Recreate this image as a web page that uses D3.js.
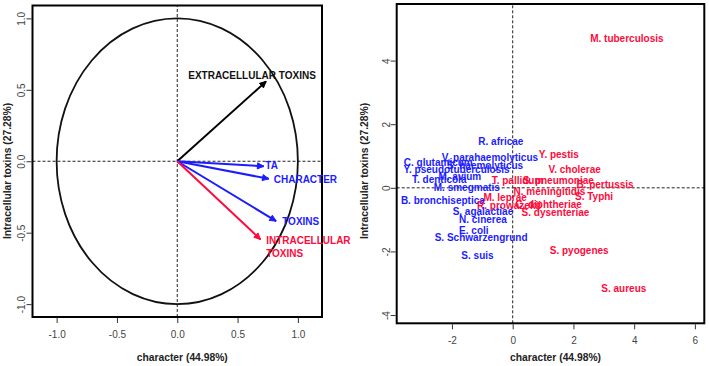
<!DOCTYPE html>
<meta charset="utf-8">
<title>PCA biplot - toxins</title>
<style>
  body { margin: 0; background: #fff; }
  svg text { font-family: "Liberation Sans", Arial, sans-serif; }
</style>
<body>
<div id="chart"></div>
<script src="https://cdn.jsdelivr.net/npm/d3@7/dist/d3.min.js"></script>
<script>

  const width = 709;
  const height = 366;

  // variables (correlation circle)
  const varNames = ["EXTRACELLULAR TOXINS", "TA", "CHARACTER", "TOXINS", "INTRACELLULAR TOXINS"];
  const varX = [0.737, 0.717, 0.759, 0.820, 0.690];
  const varY = [0.559, -0.035, -0.123, -0.419, -0.547];
  const varLabelX = [0.091, 0.73, 0.800, 0.870, 0.737];
  const varLabelY = [0.598, -0.030, -0.128, -0.424, -0.555];
  const varGroup = ["extra", "both", "both", "both", "intra"];

  // individuals
  const species = [
    "M. tuberculosis", "R. africae", "Y. pestis", "V. parahaemolyticus", "C. glutamicum",
    "S. haemolyticus", "Y. pseudotuberculosis", "M. avium", "T. denticola", "M. smegmatis",
    "T. pallidum", "S. pneumoniae", "V. cholerae", "B. pertussis", "N. meningitidis",
    "S. Typhi", "B. bronchiseptica", "M. leprae", "R. prowazekii", "C. diphtheriae",
    "S. dysenteriae", "S. agalactiae", "N. cinerea", "E. coli", "S. Schwarzengrund",
    "S. suis", "S. pyogenes", "S. aureus"
  ];
  const pcX = [3.76, -0.39, 1.52, -0.75, -2.45, -0.91, -1.85, -1.74, -2.42, -1.51,
               0.16, 1.50, 2.04, 3.04, 1.21, 2.68, -2.30, -0.25, -0.12, 1.18,
               1.41, -0.98, -0.98, -1.28, -1.04, -1.16, 2.19, 3.66];
  const pcY = [4.70, 1.45, 1.05, 0.96, 0.80, 0.71, 0.58, 0.37, 0.26, 0.01,
               0.24, 0.24, 0.59, 0.11, -0.13, -0.26, -0.41, -0.31, -0.57, -0.54,
               -0.77, -0.75, -0.99, -1.33, -1.56, -2.13, -1.96, -3.16];
  const pcGroup = ["intra", "extra", "intra", "extra", "extra", "extra", "extra", "extra", "extra", "extra",
                   "intra", "intra", "intra", "intra", "intra", "intra", "extra", "intra", "intra", "intra",
                   "intra", "extra", "extra", "extra", "extra", "extra", "intra", "intra"];

  const leftTicksX = [-1.0, -0.5, 0.0, 0.5, 1.0];
  const leftTicksY = [-1.0, -0.5, 0.0, 0.5, 1.0];
  const rightTicksX = [-2, 0, 2, 4, 6];
  const rightTicksY = [-4, -2, 0, 2, 4];

  const xTitle = "character (44.98%)";
  const yTitle = "Intracellular toxins (27.28%)";

  const colors = { extra: "#1c1cff", intra: "#ff0a3c", both: "#1c1cff" };
  const arrowColors = { extra: "#000", intra: "#ff0a3c", both: "#1c1cff" };

  // R-style labels: plain hyphen for negatives
  const fmt1 = d => d3.format(".1f")(d).replace("\u2212", "-");
  const fmt0 = d => d3.format("d")(d).replace("\u2212", "-");

  const svg = d3.select("#chart").append("svg")
    .attr("width", width)
    .attr("height", height);

  function panel(x, y, ticksX, ticksY, fmt, yTickX, yTitleX) {
    const g = svg.append("g");
    const [x0, x1] = x.range();
    const [y0, y1] = y.range();

    // dashed zero lines
    g.append("line")
      .attr("x1", x0).attr("x2", x1)
      .attr("y1", y(0)).attr("y2", y(0))
      .attr("stroke", "#222").attr("stroke-width", 1).attr("stroke-dasharray", "3,2");
    g.append("line")
      .attr("x1", x(0)).attr("x2", x(0))
      .attr("y1", y0).attr("y2", y1)
      .attr("stroke", "#222").attr("stroke-width", 1).attr("stroke-dasharray", "3,2");

    // x axis
    const ax = g.append("g")
      .attr("transform", `translate(0,${y0 + 1})`)
      .call(d3.axisBottom(x).tickValues(ticksX).tickFormat(fmt).tickSizeOuter(0).tickSize(5).tickPadding(8));
    ax.select(".domain").remove();

    // y axis
    const ay = g.append("g")
      .attr("transform", `translate(${x0 - 1},0)`)
      .call(d3.axisLeft(y).tickValues(ticksY).tickFormat(fmt).tickSizeOuter(0).tickSize(5));
    ay.select(".domain").remove();
    ay.selectAll(".tick text")
      .attr("x", null).attr("dy", null)
      .attr("text-anchor", "middle")
      .attr("transform", `translate(${yTickX - x0 + 1},0) rotate(-90) translate(0,4)`);

    [ax, ay].forEach(a => {
      a.selectAll(".tick line").attr("stroke", "#333");
      a.selectAll(".tick text").attr("font-size", 10).attr("fill", "#444")
        .style("font-family", '"Liberation Sans", Arial, sans-serif');
    });

    // box
    g.append("rect")
      .attr("x", x0).attr("y", y1)
      .attr("width", x1 - x0).attr("height", y0 - y1)
      .attr("fill", "none").attr("stroke", "#000").attr("stroke-width", 2);

    // titles
    g.append("text")
      .attr("x", (x0 + x1) / 2 + 5).attr("y", 361)
      .attr("text-anchor", "middle").attr("font-size", 10.3).attr("font-weight", "bold")
      .attr("fill", "#222")
      .text(xTitle);
    g.append("text")
      .attr("transform", `translate(${yTitleX},171) rotate(-90)`)
      .attr("text-anchor", "middle").attr("font-size", 10.3).attr("font-weight", "bold")
      .attr("fill", "#222")
      .text(yTitle);
    return g;
  }

  // ---- left: correlation circle
  const xL = d3.scaleLinear().domain([-1.2, 1.2]).range([32.5, 322]);
  const yL = d3.scaleLinear().domain([-1.09, 1.09]).range([317, 5.5]);
  const gl = panel(xL, yL, leftTicksX, leftTicksY, fmt1, 21, 11);

  gl.append("ellipse")
    .attr("cx", xL(0)).attr("cy", yL(0))
    .attr("rx", xL(1) - xL(0)).attr("ry", yL(0) - yL(1))
    .attr("fill", "none").attr("stroke", "#111").attr("stroke-width", 1.8);

  const vars = varNames.map((n, i) => ({ n, x: varX[i], y: varY[i], lx: varLabelX[i], ly: varLabelY[i], g: varGroup[i] }));

  vars.forEach(d => {
    const sx = xL(0), sy = yL(0), ex = xL(d.x), ey = yL(d.y);
    const ang = Math.atan2(ey - sy, ex - sx);
    const head = 7, spread = Math.PI / 7;
    const c = arrowColors[d.g];
    gl.append("line")
      .attr("x1", sx).attr("y1", sy).attr("x2", ex).attr("y2", ey)
      .attr("stroke", c).attr("stroke-width", 2);
    gl.append("path")
      .attr("d", `M${ex - head * Math.cos(ang - spread)},${ey - head * Math.sin(ang - spread)}L${ex},${ey}L${ex - head * Math.cos(ang + spread)},${ey - head * Math.sin(ang + spread)}Z`)
      .attr("fill", c).attr("stroke", c).attr("stroke-width", 1);

    const t = gl.append("text")
      .attr("x", xL(d.lx)).attr("y", yL(d.ly))
      .attr("dy", "0.35em")
      .attr("font-size", 10).attr("font-weight", "bold")
      .attr("fill", d.g === "extra" ? "#111" : c);
    if (d.n === "INTRACELLULAR TOXINS") {
      t.append("tspan").attr("x", xL(d.lx)).text("INTRACELLULAR");
      t.append("tspan").attr("x", xL(d.lx)).attr("dy", "1.25em").text("TOXINS");
    } else {
      t.text(d.n);
    }
  });

  // ---- right: individuals
  const xR = d3.scaleLinear().domain([-3.82, 6.31]).range([396.7, 704.3]);
  const yR = d3.scaleLinear().domain([-4.26, 5.78]).range([323.3, 4]);
  const gr = panel(xR, yR, rightTicksX, rightTicksY, fmt0, 385.5, 367.5);

  const pts = species.map((n, i) => ({ n, x: pcX[i], y: pcY[i], g: pcGroup[i] }));

  gr.selectAll("text.sp")
    .data(pts)
    .join("text")
    .attr("class", "sp")
    .attr("x", d => xR(d.x))
    .attr("y", d => yR(d.y))
    .attr("dy", "0.35em")
    .attr("text-anchor", "middle")
    .attr("font-size", 10).attr("font-weight", "bold")
    .attr("fill", d => colors[d.g])
    .text(d => d.n);

</script>
</body>
